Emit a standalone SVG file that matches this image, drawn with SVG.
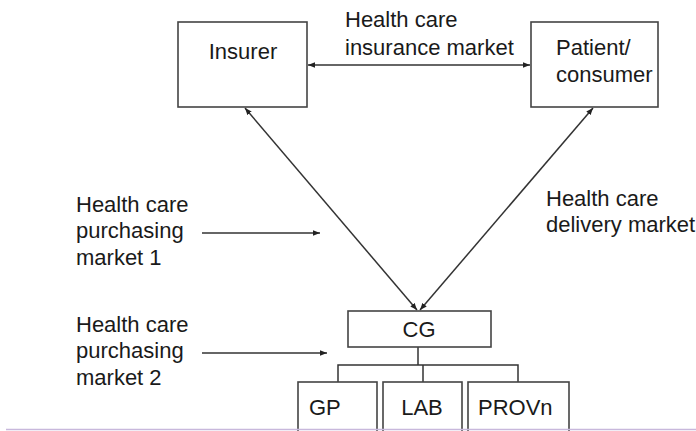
<svg xmlns="http://www.w3.org/2000/svg" width="696" height="431" viewBox="0 0 696 431">
<defs>
<marker id="ah" viewBox="0 0 10 10" refX="10" refY="5" markerWidth="7" markerHeight="7" orient="auto-start-reverse" markerUnits="userSpaceOnUse">
<path d="M0,1 L10,5 L0,9 z" fill="#222"/>
</marker>
<style>
.box{fill:#fff;stroke:#444;stroke-width:1.6}
.t{font-family:"Liberation Sans",Arial,sans-serif;font-size:22px;fill:#1a1a1a}
.c{stroke:#333;stroke-width:1.5;fill:none}
</style>
</defs>
<rect width="696" height="431" fill="#fff"/>
<g id="connectors">
<line class="c" x1="308" y1="65" x2="530" y2="65" marker-start="url(#ah)" marker-end="url(#ah)"/>
<line class="c" x1="245" y1="108" x2="417" y2="310" marker-start="url(#ah)" marker-end="url(#ah)"/>
<line class="c" x1="593" y1="108" x2="420" y2="310" marker-start="url(#ah)" marker-end="url(#ah)"/>
<line class="c" x1="202" y1="233" x2="320" y2="233" marker-end="url(#ah)"/>
<line class="c" x1="202" y1="353" x2="327" y2="353" marker-end="url(#ah)"/>
<path class="c" d="M418,347 V365 M338,382 V365 H518 V382 M423,365 V382"/>
</g>
<g id="insurer">
<rect class="box" x="178" y="22" width="129" height="85"/>
<text class="t" x="243" y="59" text-anchor="middle">Insurer</text>
</g>
<g id="patient">
<rect class="box" x="531" y="22" width="127" height="85"/>
<text class="t" x="556" y="55">Patient/</text>
<text class="t" x="556" y="82">consumer</text>
</g>
<g id="insurance-market-label">
<text class="t" x="345" y="27">Health care</text>
<text class="t" x="345" y="55">insurance market</text>
</g>
<g id="delivery-market-label">
<text class="t" x="546" y="206">Health care</text>
<text class="t" x="546" y="232">delivery market</text>
</g>
<g id="purchasing-market-1-label">
<text class="t" x="76" y="212">Health care</text>
<text class="t" x="76" y="238">purchasing</text>
<text class="t" x="76" y="265">market 1</text>
</g>
<g id="purchasing-market-2-label">
<text class="t" x="76" y="332">Health care</text>
<text class="t" x="76" y="358">purchasing</text>
<text class="t" x="76" y="385">market 2</text>
</g>
<g id="cg">
<rect class="box" x="348" y="311" width="143" height="36"/>
<text class="t" x="419" y="337" text-anchor="middle">CG</text>
</g>
<g id="gp">
<rect class="box" x="298" y="382" width="79" height="60"/>
<text class="t" x="309" y="415">GP</text>
</g>
<g id="lab">
<rect class="box" x="383" y="382" width="79" height="60"/>
<text class="t" x="422" y="415" text-anchor="middle">LAB</text>
</g>
<g id="provn">
<rect class="box" x="468" y="382" width="101" height="60"/>
<text class="t" x="478" y="415">PROVn</text>
</g>
<line x1="6" y1="429.5" x2="696" y2="429.5" stroke="#c8b8dc" stroke-width="1.5"/>
</svg>
